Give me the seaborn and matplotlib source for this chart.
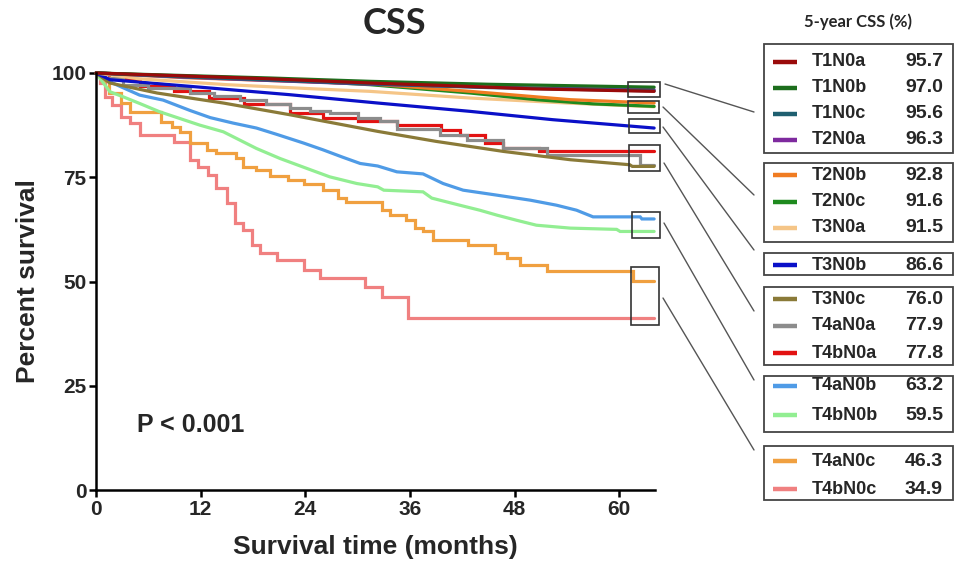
import matplotlib
matplotlib.use("Agg")
import matplotlib.pyplot as plt
import seaborn as sns
import pandas as pd
from matplotlib.patches import Rectangle

sns.set_theme(style="white")
plt.rcParams['font.family'] = ['Liberation Sans', 'DejaVu Sans']

# ---------------- data ----------------
groups = ["T1N0a", "T1N0b", "T1N0c", "T2N0a", "T2N0b", "T2N0c", "T3N0a", "T3N0b",
          "T3N0c", "T4aN0a", "T4bN0a", "T4aN0b", "T4bN0b", "T4aN0c", "T4bN0c"]
colors = ["#9A0A0A", "#1C6E1C", "#1F5F70", "#7E2A9E", "#F07C22", "#1E8A1E", "#F5C587",
          "#0A10C8", "#8A7A38", "#8C8C8C", "#E21212", "#4F9BE6", "#92EE92", "#F0A040", "#F08080"]
five_year_css = [95.7, 97.0, 95.6, 96.3, 92.8, 91.6, 91.5, 86.6, 76.0, 77.9, 77.8, 63.2, 59.5, 46.3, 34.9]
step_groups = ["T4aN0a", "T4bN0a", "T4aN0c", "T4bN0c"]

t_T1N0a = [0, 10, 20, 31.4, 40, 50, 64]
s_T1N0a = [100, 99.3, 98.6, 97.6, 97.0, 96.2, 95.6]
t_T1N0b = [0, 10, 20, 31.4, 45, 64]
s_T1N0b = [100, 99.4, 98.8, 98.0, 97.3, 96.6]
t_T1N0c = [0, 10, 20, 31.4, 45, 64]
s_T1N0c = [100, 99.1, 98.3, 97.4, 96.5, 95.7]
t_T2N0a = [0, 10, 20, 31.4, 45, 64]
s_T2N0a = [100, 99.0, 98.2, 97.3, 96.6, 96.0]
t_T2N0b = [0, 10, 20, 31.4, 42.9, 54.4, 64]
s_T2N0b = [100, 98.9, 98.2, 97.4, 95.6, 93.6, 92.8]
t_T2N0c = [0, 10, 20, 31.4, 42.9, 50.5, 57, 64]
s_T2N0c = [100, 99.2, 98.5, 97.2, 95.2, 93.6, 92.6, 92.0]
t_T3N0a = [0, 5, 15, 25, 31.4, 42.9, 54, 64]
s_T3N0a = [100, 98.6, 97.2, 96.2, 95.6, 94.0, 92.8, 91.9]
t_T3N0b = [0, 1.6, 10.8, 22.2, 32.3, 42.9, 52.4, 64]
s_T3N0b = [100, 98.4, 96.8, 94.8, 92.8, 90.8, 88.8, 86.8]
t_T3N0c = [0, 1.6, 7, 14.6, 22.2, 32.3, 39, 46.7, 54.4, 61.2, 61.5, 64]
s_T3N0c = [100, 97.6, 95.2, 92.8, 90.0, 86.0, 83.6, 81.2, 79.2, 78.0, 77.6, 77.6]
t_T4aN0a = [0, 1, 3.1, 6, 10.8, 13.5, 16.5, 19.5, 22.2, 24.5, 26.8, 30, 32.6, 34.5, 39.4,
            42.5, 46.7, 51.7, 62.4, 64]
s_T4aN0a = [100, 98.8, 97.2, 96.4, 95.2, 94.4, 93.6, 92.6, 91.6, 91.0, 90.4, 89.2, 88.4, 86.5, 85.2,
            84.0, 82.0, 80.4, 78.0, 78.0]
t_T4bN0a = [0, 1.5, 5, 9, 13, 17, 22.2, 26, 30, 34.5, 39.6, 41.7, 44.6, 46.7, 50.8, 64]
s_T4bN0a = [100, 98.5, 97.0, 95.6, 94.0, 92.6, 90.4, 89.2, 88.4, 87.6, 86.4, 85.2, 83.2, 82.0, 81.2, 81.2]
t_T4aN0b = [0, 2, 5, 7.7, 10.8, 13.1, 15.7, 18.4, 20.7, 23.8, 26, 28.3, 30.3, 32.3, 34.5, 37.5,
            39.8, 42.1, 46, 49.8, 52.8, 55.1, 57, 62.4, 62.6, 64]
s_T4aN0b = [100, 97.5, 94.7, 93.5, 91.0, 89.3, 88.0, 86.8, 85.3, 83.2, 81.6, 79.8, 78.3, 77.7, 76.3, 75.8,
            73.5, 71.9, 70.7, 69.5, 68.3, 67.1, 65.5, 65.5, 65.0, 65.0]
t_T4bN0b = [0, 1.6, 3.1, 5, 7.3, 9.6, 11.9, 14.6, 16.5, 18.4, 21.1, 24.2, 26.8, 29.9, 32.3, 33,
            37.5, 38.5, 41.7, 44, 46, 48.2, 50.5, 54.4, 59.7, 60.1, 64]
s_T4bN0b = [100, 95.5, 94.3, 92.7, 90.7, 89.1, 87.5, 85.9, 83.9, 81.9, 79.5, 77.1, 75.1, 73.5, 72.7, 71.9,
            71.5, 70.0, 68.3, 67.1, 65.9, 64.7, 63.5, 62.8, 62.5, 62.0, 62.0]
t_T4aN0c = [0, 0.7, 1.5, 2.9, 3.9, 7.5, 8.7, 9.6, 10.8, 12.7, 13.8, 16.1, 16.9, 18.4, 20.0, 22.0,
            23.8, 26.0, 27.8, 28.7, 32.8, 33.7, 35.6, 36.6, 37.5, 38.7, 42.7, 45.8, 47.1, 48.6,
            51.7, 61.6, 64]
s_T4aN0c = [100, 98.0, 95.2, 92.7, 90.7, 88.3, 87.1, 85.9, 83.1, 81.5, 80.7, 79.5, 77.5, 76.7, 75.3, 74.3,
            73.3, 71.9, 70.0, 69.1, 67.1, 65.9, 64.7, 62.8, 62.0, 60.0, 58.8, 56.8, 55.6, 54.0,
            52.6, 50.2, 50.2]
t_T4bN0c = [0, 0.5, 1.0, 1.8, 2.9, 3.9, 5.0, 8.9, 10.8, 11.7, 12.9, 13.8, 15.0, 15.9, 16.9, 17.9,
            18.8, 20.7, 23.8, 25.7, 30.8, 32.8, 35.8, 64]
s_T4bN0c = [100, 97.6, 94.3, 92.3, 89.5, 87.9, 85.1, 83.5, 79.1, 77.5, 75.5, 72.4, 68.8, 64.0, 62.4, 58.8,
            56.8, 55.2, 52.8, 50.8, 48.8, 46.4, 41.2, 41.2]

curves = {
    "T1N0a": (t_T1N0a, s_T1N0a), "T1N0b": (t_T1N0b, s_T1N0b), "T1N0c": (t_T1N0c, s_T1N0c),
    "T2N0a": (t_T2N0a, s_T2N0a), "T2N0b": (t_T2N0b, s_T2N0b), "T2N0c": (t_T2N0c, s_T2N0c),
    "T3N0a": (t_T3N0a, s_T3N0a), "T3N0b": (t_T3N0b, s_T3N0b), "T3N0c": (t_T3N0c, s_T3N0c),
    "T4aN0a": (t_T4aN0a, s_T4aN0a), "T4bN0a": (t_T4bN0a, s_T4bN0a), "T4aN0b": (t_T4aN0b, s_T4aN0b),
    "T4bN0b": (t_T4bN0b, s_T4bN0b), "T4aN0c": (t_T4aN0c, s_T4aN0c), "T4bN0c": (t_T4bN0c, s_T4bN0c),
}

x_ticks = [0, 12, 24, 36, 48, 60]
y_ticks = [0, 25, 50, 75, 100]

# ---------------- figure ----------------
W, H = 958, 564
fig = plt.figure(figsize=(W / 100, H / 100), dpi=100)
fig.patch.set_facecolor("white")
ax = fig.add_axes([96 / W, (H - 490) / H, (655 - 96) / W, (490 - 73) / H])
ax.set_facecolor("white")

color_of = dict(zip(groups, colors))
for g in reversed(groups):
    t, s = curves[g]
    df = pd.DataFrame({"t": t, "s": s})
    sns.lineplot(data=df, x="t", y="s", ax=ax, color=color_of[g], lw=2.3,
                 estimator=None, sort=False, legend=False,
                 drawstyle="steps-post" if g in step_groups else "default",
                 clip_on=False, solid_joinstyle="miter")

ax.set_xlim(0, 64.1)
ax.set_ylim(0, 100)
ax.set_xticks(x_ticks)
ax.set_yticks(y_ticks)
ax.set_xticklabels([str(v) for v in x_ticks], fontsize=15, fontweight="bold")
ax.set_yticklabels([str(v) for v in y_ticks], fontsize=15, fontweight="bold")
for side in ["top", "right"]:
    ax.spines[side].set_visible(False)
for side in ["left", "bottom"]:
    ax.spines[side].set_color("black")
    ax.spines[side].set_linewidth(1.8)
ax.tick_params(axis="both", direction="out", length=5, width=1.8, color="black",
               left=True, bottom=True, pad=2)
ax.grid(False)
ax.set_xlabel("Survival time (months)", fontsize=19, fontweight="bold", labelpad=12)
ax.set_ylabel("Percent survival", fontsize=19, fontweight="bold", labelpad=8)

# overlay in pixel coordinates
ov = fig.add_axes([0, 0, 1, 1], zorder=5)
ov.set_xlim(0, W)
ov.set_ylim(H, 0)
ov.axis("off")
ov.patch.set_alpha(0)

ov.text(137, 425, "P < 0.001", fontsize=18, fontweight="bold", ha="left", va="center")
ov.text(394, 24, "CSS", fontsize=26, fontweight="bold", ha="center", va="center",
        family=["Lato", "DejaVu Sans"])
ov.text(858, 22, "5-year CSS (%)", fontsize=12, fontweight="bold", ha="center", va="center",
        family=["Lato", "DejaVu Sans"])

# legend boxes (top, bottom) and row centres
box_left, box_right = 764, 953
boxes = [(44, 153), (163, 242), (253, 275), (287, 365), (376, 432), (446, 500)]
row_y = [62, 88, 114, 140, 175, 202, 228, 265, 299, 326, 353, 386, 415, 461, 489]
for (top, bot) in boxes:
    ov.add_patch(Rectangle((box_left, top), box_right - box_left, bot - top,
                           fill=False, edgecolor="#444444", lw=1.3))
for g, c, v, y in zip(groups, colors, five_year_css, row_y):
    ov.plot([773, 797], [y, y], color=c, lw=3.2, solid_capstyle="butt")
    ov.text(812, y, g, fontsize=13, fontweight="bold", va="center", ha="left")
    ov.text(905, y, f"{v:.1f}", fontsize=14, fontweight="bold", va="center", ha="left")

# small boxes around curve ends and connector lines
end_rects = [(628, 82, 660, 97), (628, 101, 659, 113), (629, 119, 660, 133),
             (629, 145, 660, 171), (632, 212, 660, 238), (631, 267, 659, 325)]
connectors = [((665, 84), (754, 112)), ((663, 107), (754, 195)), ((663, 127), (754, 250)),
              ((664, 163), (754, 311)), ((664, 223), (754, 380)), ((663, 298), (754, 450))]
for (x0, y0, x1, y1) in end_rects:
    ov.add_patch(Rectangle((x0, y0), x1 - x0, y1 - y0, fill=False, edgecolor="#333333", lw=1.2))
for (p, q) in connectors:
    ov.plot([p[0], q[0]], [p[1], q[1]], color="#555555", lw=1.0)

fig.savefig("out.png", dpi=100, facecolor="white")
